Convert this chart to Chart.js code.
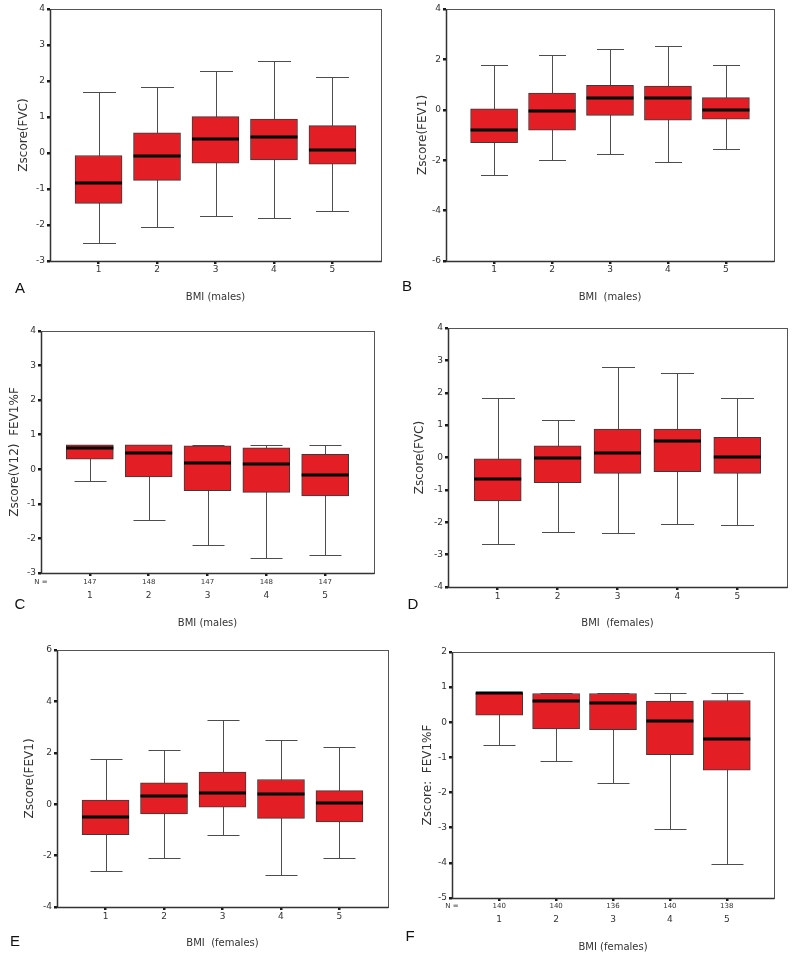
<!DOCTYPE html>
<html><head><meta charset="utf-8">
<script src="https://cdn.jsdelivr.net/npm/chart.js@4.4.1/dist/chart.umd.min.js"></script>
<style>
html,body{margin:0;padding:0;background:#fff;}
#wrap{position:relative;width:800px;height:953px;overflow:hidden;background:#fff;}
#wrap canvas{position:absolute;}
.lbl{position:absolute;font:15px "Liberation Sans",Arial,sans-serif;color:#111;transform:translate(-50%,-50%);}
</style></head><body><div id="wrap"></div>
<script>
const categories = [1, 2, 3, 4, 5];

// A: Zscore(FVC), males
const A_min = [-2.50, -2.05, -1.75, -1.81, -1.60];
const A_q1  = [-1.40, -0.76, -0.28, -0.19, -0.31];
const A_med = [-0.84, -0.07,  0.38,  0.44,  0.09];
const A_q3  = [-0.07,  0.56,  1.01,  0.94,  0.76];
const A_max = [ 1.70,  1.83,  2.28,  2.56,  2.11];

// B: Zscore(FEV1), males
const B_min = [-2.58, -1.98, -1.76, -2.09, -1.56];
const B_q1  = [-1.30, -0.81, -0.22, -0.41, -0.37];
const B_med = [-0.79, -0.04,  0.45,  0.45,  0.00];
const B_q3  = [ 0.04,  0.66,  0.97,  0.94,  0.48];
const B_max = [ 1.79,  2.16,  2.42,  2.55,  1.79];

// C: Zscore(V12) FEV1%F, males
const C_min = [-0.34, -1.47, -2.20, -2.58, -2.49];
const C_q1  = [ 0.29, -0.22, -0.62, -0.67, -0.77];
const C_med = [ 0.63,  0.46,  0.19,  0.16, -0.16];
const C_q3  = [ 0.71,  0.71,  0.68,  0.62,  0.43];
const C_max = [ 0.71,  0.71,  0.69,  0.70,  0.70];
const C_n   = [147, 148, 147, 148, 147];

// D: Zscore(FVC), females
const D_min = [-2.68, -2.30, -2.33, -2.04, -2.07];
const D_q1  = [-1.34, -0.78, -0.49, -0.44, -0.49];
const D_med = [-0.67,  0.00,  0.13,  0.52,  0.03];
const D_q3  = [ 0.00,  0.36,  0.88,  0.88,  0.62];
const D_max = [ 1.83,  1.16,  2.81,  2.62,  1.83];

// E: Zscore(FEV1), females
const E_min = [-2.58, -2.10, -1.21, -2.75, -2.10];
const E_q1  = [-1.19, -0.38, -0.12, -0.55, -0.69];
const E_med = [-0.51,  0.31,  0.43,  0.40,  0.06];
const E_q3  = [ 0.16,  0.83,  1.25,  0.96,  0.53];
const E_max = [ 1.77,  2.09,  3.29,  2.48,  2.22];

// F: Zscore: FEV1%F, females
const F_min = [-0.66, -1.11, -1.72, -3.03, -4.04];
const F_q1  = [ 0.20, -0.19, -0.21, -0.92, -1.36];
const F_med = [ 0.83,  0.60,  0.55,  0.05, -0.48];
const F_q3  = [ 0.84,  0.82,  0.82,  0.60,  0.62];
const F_max = [ 0.84,  0.82,  0.82,  0.82,  0.82];
const F_n   = [140, 140, 136, 140, 138];

const panels = [
  {id:'A', s:{min:A_min,q1:A_q1,med:A_med,q3:A_q3,max:A_max}, n:null, yMin:-3, yMax:4, yStep:1,
   yTitle:'Zscore(FVC)', xTitle:'BMI (males)',
   canvas:[0,0,400,310], area:[50,381,9,261], yTitleX:24, xTickY:270, xTitleY:297, letter:[20,287], cap:33},
  {id:'B', s:{min:B_min,q1:B_q1,med:B_med,q3:B_q3,max:B_max}, n:null, yMin:-6, yMax:4, yStep:2,
   yTitle:'Zscore(FEV1)', xTitle:'BMI  (males)',
   canvas:[400,0,400,310], area:[446,774,9,261], yTitleX:423, xTickY:270, xTitleY:297, letter:[407,285], cap:27},
  {id:'C', s:{min:C_min,q1:C_q1,med:C_med,q3:C_q3,max:C_max}, n:C_n, yMin:-3, yMax:4, yStep:1,
   yTitle:'Zscore(V12)  FEV1%F', xTitle:'BMI (males)',
   canvas:[0,310,400,320], area:[41,374,331,573], yTitleX:15, nTickY:582, xTickY:596, xTitleY:623, letter:[20,603], cap:32},
  {id:'D', s:{min:D_min,q1:D_q1,med:D_med,q3:D_q3,max:D_max}, n:null, yMin:-4, yMax:4, yStep:1,
   yTitle:'Zscore(FVC)', xTitle:'BMI  (females)',
   canvas:[400,310,400,320], area:[448,787,328,587], yTitleX:420, xTickY:597, xTitleY:623, letter:[413,603], cap:33},
  {id:'E', s:{min:E_min,q1:E_q1,med:E_med,q3:E_q3,max:E_max}, n:null, yMin:-4, yMax:6, yStep:2,
   yTitle:'Zscore(FEV1)', xTitle:'BMI  (females)',
   canvas:[0,630,400,323], area:[57,388,650,907], yTitleX:30, xTickY:917, xTitleY:943, letter:[15,940], cap:32},
  {id:'F', s:{min:F_min,q1:F_q1,med:F_med,q3:F_q3,max:F_max}, n:F_n, yMin:-5, yMax:2, yStep:1,
   yTitle:'Zscore:  FEV1%F', xTitle:'BMI (females)',
   canvas:[400,630,400,323], area:[452,774,652,898], yTitleX:428, nTickY:906, xTickY:920, xTitleY:947, letter:[410,935], cap:32}
];

const FONT = "'DejaVu Sans', Verdana, sans-serif";
const RED = '#e31e24';
const wrap = document.getElementById('wrap');
const BOXW = 47;

panels.forEach(p => {
  const [cl, ct, cw, ch] = p.canvas;
  const [al, ar, at, ab] = p.area;
  const cv = document.createElement('canvas');
  cv.width = cw; cv.height = ch;
  cv.style.left = cl + 'px'; cv.style.top = ct + 'px';
  cv.style.width = cw + 'px'; cv.style.height = ch + 'px';
  wrap.appendChild(cv);

  const lab = document.createElement('div');
  lab.className = 'lbl'; lab.textContent = p.id;
  lab.style.left = p.letter[0] + 'px'; lab.style.top = p.letter[1] + 'px';
  wrap.appendChild(lab);

  const tickSize = 9, nSize = 7, ySize = 12, xSize = 10;
  const tLH = tickSize * 1.2, nLH = nSize * 1.2, yLH = ySize * 1.2, xLH = xSize * 1.2;
  const hasN = !!p.n;
  const nH = hasN ? (p.nTickY - ab + 5) : 0;
  const xTop = ab + nH;
  const xTl = hasN ? 0 : 3;
  const xPad = p.xTickY - xTop - xTl - tLH / 2;
  const xTitlePadB = (ct + ch) - p.xTitleY - xLH / 2;

  const tickMarks = {drawOnChartArea:false, drawTicks:true, tickLength:3, color:'#1a1a1a', lineWidth:2.5, offset:false};

  const scales = {
    y: {
      position:'left', min:p.yMin, max:p.yMax,
      ticks:{stepSize:p.yStep, font:{family:FONT, size:tickSize}, color:'#333', padding:2},
      grid:tickMarks,
      border:{display:false},
      title:{display:true, text:p.yTitle, font:{family:FONT, size:ySize}, color:'#333',
             padding:{top:p.yTitleX - cl - yLH / 2, bottom:0}},
      afterFit: s => { s.width = al - cl; }
    },
    x: {
      type:'linear', position:'bottom', weight:1, min:0.17, max:5.83, offset:false,
      afterBuildTicks: s => { s.ticks = categories.map(v => ({value:v})); },
      ticks:{font:{family:FONT, size:tickSize}, color:'#333', padding:xPad, maxRotation:0, autoSkip:false,
             callback: v => String(v)},
      grid: hasN ? {display:false, drawTicks:false, offset:false} : tickMarks,
      border:{display:false},
      title:{display:true, text:p.xTitle, font:{family:FONT, size:xSize}, color:'#333',
             padding:{top:0, bottom:xTitlePadB}},
      afterFit: s => { s.height = ch - (ab - ct) - nH; }
    }
  };
  if (hasN) {
    scales.xN = {
      type:'linear', position:'bottom', weight:0, min:0.17, max:5.83, offset:false,
      afterBuildTicks: s => { s.ticks = [{value:s.min}].concat(categories.map(v => ({value:v}))); },
      ticks:{font:{family:FONT, size:nSize}, color:'#333', padding:p.nTickY - ab - 3 - nLH / 2,
             maxRotation:0, autoSkip:false,
             callback: (v, i) => i === 0 ? 'N =' : String(p.n[i - 1])},
      grid:{drawOnChartArea:false, drawTicks:true, tickLength:3, lineWidth:2.5, offset:false,
            color: c => c.index === 0 ? 'rgba(0,0,0,0)' : '#1a1a1a'},
      border:{display:false},
      afterFit: s => { s.height = nH; }
    };
  }

  const boxPlugin = {
    id:'box' + p.id,
    beforeDatasetsDraw(chart) {
      const {ctx} = chart; const x = chart.scales.x, y = chart.scales.y;
      ctx.save(); ctx.strokeStyle = '#4d4d4d'; ctx.lineWidth = 1;
      categories.forEach((c, i) => {
        const px = Math.round(x.getPixelForValue(c)) + 0.5;
        const yT = Math.round(y.getPixelForValue(p.s.max[i])) + 0.5;
        const yB = Math.round(y.getPixelForValue(p.s.min[i])) + 0.5;
        const h = p.cap / 2;
        ctx.beginPath();
        ctx.moveTo(px, yT); ctx.lineTo(px, yB);
        ctx.moveTo(px - h, yT); ctx.lineTo(px + h, yT);
        ctx.moveTo(px - h, yB); ctx.lineTo(px + h, yB);
        ctx.stroke();
      });
      ctx.restore();
    },
    afterDatasetsDraw(chart) {
      const {ctx} = chart; const x = chart.scales.x, y = chart.scales.y;
      ctx.save(); ctx.strokeStyle = '#000'; ctx.lineWidth = 3;
      categories.forEach((c, i) => {
        const px = x.getPixelForValue(c);
        const py = Math.round(y.getPixelForValue(p.s.med[i]));
        ctx.beginPath();
        ctx.moveTo(px - BOXW / 2, py); ctx.lineTo(px + BOXW / 2, py);
        ctx.stroke();
      });
      const a = chart.chartArea;
      const l = Math.round(a.left) + 0.5, r = Math.round(a.right) + 0.5;
      const t = Math.round(a.top) + 0.5, b = Math.round(a.bottom) + 0.5;
      ctx.lineWidth = 1; ctx.strokeStyle = '#555';
      ctx.strokeRect(l, t, r - l, b - t);
      ctx.strokeStyle = '#333'; ctx.lineWidth = 1.5;
      ctx.beginPath(); ctx.moveTo(l, t); ctx.lineTo(l, b); ctx.lineTo(r, b); ctx.stroke();
      ctx.restore();
    }
  };

  new Chart(cv, {
    type:'bar',
    data:{
      datasets:[{
        data: categories.map((c, i) => ({x:c, y:[p.s.q1[i], p.s.q3[i]]})),
        backgroundColor:RED, borderColor:'#3a3a3a', borderWidth:1, borderSkipped:false,
        barThickness:BOXW, xAxisID:'x', yAxisID:'y'
      }]
    },
    options:{
      responsive:false, animation:false, devicePixelRatio:1,
      layout:{padding:{top:at - ct, right:(cl + cw) - ar, bottom:0, left:0}},
      plugins:{legend:{display:false}, tooltip:{enabled:false}},
      scales
    },
    plugins:[boxPlugin]
  });
});
</script>
</body></html>
